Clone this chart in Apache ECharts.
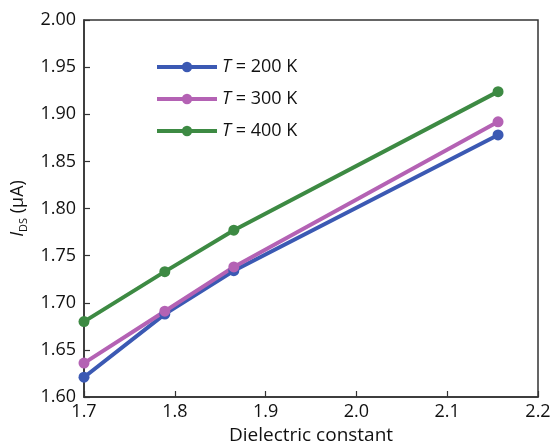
<!DOCTYPE html>
<html>
<head>
<meta charset="utf-8">
<script src="https://cdn.jsdelivr.net/npm/echarts@6/dist/echarts.min.js"></script>
<style>html,body{margin:0;padding:0;background:#fff}#c{width:552px;height:443px}</style>
</head>
<body>
<div id="c"></div>
<script>
var dielectric = [1.7, 1.789, 1.865, 2.156];
var t200 = [1.621, 1.688, 1.734, 1.878];
var t300 = [1.636, 1.691, 1.738, 1.892];
var t400 = [1.680, 1.733, 1.777, 1.924];
var seriesNames = ['T = 200 K', 'T = 300 K', 'T = 400 K'];
var colors = ['#3b59b3', '#b462b4', '#3d8a43'];

function pairs(ys){ return dielectric.map(function(x,i){ return [x, ys[i]]; }); }

var FONT = 'Open Sans';
var chart = echarts.init(document.getElementById('c'), null, {renderer:'canvas'});
var data = [t200, t300, t400];
chart.setOption({
  animation: false,
  textStyle: {fontFamily: FONT},
  grid: {left: 84, right: 14, top: 20, bottom: 46, show: true, borderColor: '#333', borderWidth: 1.5, backgroundColor: 'transparent', containLabel: false, outerBoundsMode: 'none'},
  legend: {
    left: 150, top: 53, orient: 'vertical', itemWidth: 60, itemHeight: 13, itemGap: 14,
    data: seriesNames,
    lineStyle: {width: 4},
    formatter: function(n){ return '{i|T} = ' + n.slice(4); },
    textStyle: {fontSize: 18, color: '#111', fontFamily: FONT,
      rich: {i: {fontStyle: 'italic', fontSize: 18, fontFamily: FONT, color: '#111'}}}
  },
  xAxis: {
    type: 'value', min: 1.7, max: 2.2, interval: 0.1,
    name: 'Dielectric constant', nameLocation: 'middle', nameGap: 28,
    nameTextStyle: {fontSize: 19, color: '#111', fontFamily: FONT},
    axisLine: {show: true, lineStyle: {color: '#333', width: 1.5}},
    axisTick: {show: true, inside: true, length: 6, lineStyle: {color: '#333', width: 1.2}},
    splitLine: {show: false},
    axisLabel: {fontSize: 18, color: '#111', margin: 6, fontFamily: FONT, formatter: function(v){ return v.toFixed(1); }}
  },
  yAxis: {
    type: 'value', min: 1.6, max: 2.0, interval: 0.05,
    name: '{i|I}{s|DS} (μA)', nameLocation: 'middle', nameGap: 55, nameRotate: 90,
    nameTextStyle: {fontSize: 18, color: '#111', fontFamily: FONT,
      rich: {i: {fontStyle: 'italic', fontSize: 18, fontFamily: FONT, color: '#111'},
             s: {fontSize: 11, fontFamily: FONT, color: '#111', verticalAlign: 'bottom', padding: [11,0,0,0]}}},
    axisLine: {show: true, lineStyle: {color: '#333', width: 1.5}},
    axisTick: {show: true, inside: true, length: 6, lineStyle: {color: '#333', width: 1.2}},
    splitLine: {show: false},
    axisLabel: {fontSize: 18, color: '#111', margin: 8, fontFamily: FONT, formatter: function(v){ return v.toFixed(2); }}
  },
  series: seriesNames.map(function(n, k){
    return {
      name: n, type: 'line', data: pairs(data[k]),
      symbol: 'circle', symbolSize: 11,
      lineStyle: {color: colors[k], width: 4},
      itemStyle: {color: colors[k]},
      emphasis: {disabled: true}
    };
  })
});
</script>
</body>
</html>
